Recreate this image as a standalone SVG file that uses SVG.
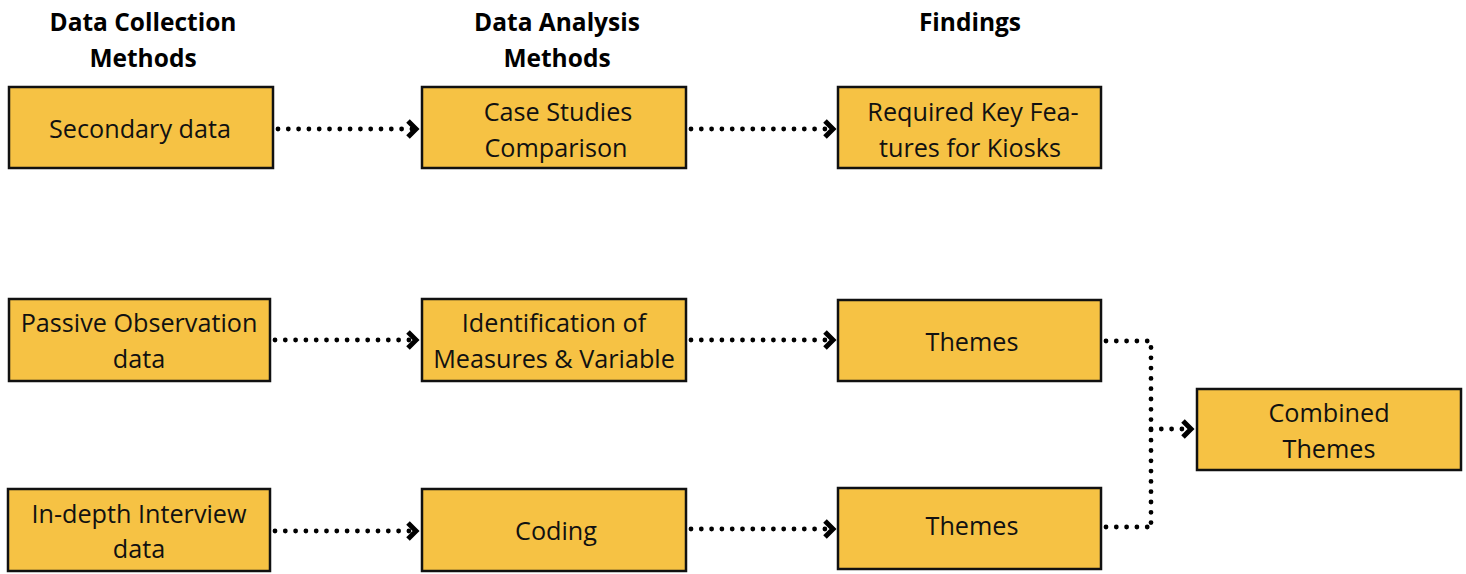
<svg xmlns="http://www.w3.org/2000/svg" width="1466" height="574" viewBox="0 0 1466 574">
  <defs>
    <style>
      .hdr { font-family: "Open Sans", "Liberation Sans", sans-serif; font-weight: 700; font-size: 24.5px; fill: #000; text-anchor: middle; }
      .box { fill: #F6C244; stroke: #111; stroke-width: 2.5; }
      .lbl { font-family: "Open Sans", "Liberation Sans", sans-serif; font-size: 25.2px; fill: #111; text-anchor: middle; }
      .dots { fill: none; stroke: #000; stroke-width: 4.8; stroke-linecap: round; stroke-dasharray: 0 10.3; }
      .head { fill: none; stroke: #000; stroke-width: 5; stroke-linecap: butt; stroke-linejoin: miter; }
    </style>
  </defs>
  <rect width="1466" height="574" fill="#fff"/>

  <!-- column headings -->
  <g id="headings">
    <text class="hdr" x="143" y="31">Data Collection</text>
    <text class="hdr" x="143" y="67">Methods</text>
    <text class="hdr" x="557" y="31">Data Analysis</text>
    <text class="hdr" x="557" y="67">Methods</text>
    <text class="hdr" x="970" y="31">Findings</text>
  </g>

  <!-- connectors -->
  <g id="connectors">
    <path class="dots" d="M278 129 H412"/>
    <path class="head" d="M408 121 L416 129 L408 137"/>
    <path class="dots" d="M691 129 H825"/>
    <path class="head" d="M825 121 L833 129 L825 137"/>

    <path class="dots" d="M275 340 H412"/>
    <path class="head" d="M408 332 L416 340 L408 348"/>
    <path class="dots" d="M691 340 H825"/>
    <path class="head" d="M825 332 L833 340 L825 348"/>

    <path class="dots" d="M275 531 H412"/>
    <path class="head" d="M408 523 L416 531 L408 539"/>
    <path class="dots" d="M691 529 H825"/>
    <path class="head" d="M825 521 L833 529 L825 537"/>

    <path class="dots" d="M1106 341 H1151 V527"/>
    <path class="dots" d="M1106 527 H1151"/>
    <path class="dots" d="M1151 429 H1182"/>
    <path class="head" d="M1183 421 L1191 429 L1183 437"/>
  </g>

  <g id="secondary-data">
    <rect class="box" x="9" y="87" width="264" height="81"/>
    <text class="lbl" x="140" y="138">Secondary data</text>
  </g>
  <g id="case-studies">
    <rect class="box" x="422" y="87" width="264" height="81"/>
    <text class="lbl" x="558" y="121">Case Studies</text>
    <text class="lbl" x="556" y="157">Comparison</text>
  </g>
  <g id="key-features">
    <rect class="box" x="838" y="87" width="263" height="81"/>
    <text class="lbl" x="973" y="121">Required Key Fea-</text>
    <text class="lbl" x="970" y="157">tures for Kiosks</text>
  </g>

  <g id="passive-observation">
    <rect class="box" x="9" y="299" width="261" height="82"/>
    <text class="lbl" x="139" y="332">Passive Observation</text>
    <text class="lbl" x="139" y="368">data</text>
  </g>
  <g id="identification">
    <rect class="box" x="422" y="299" width="264" height="82"/>
    <text class="lbl" x="554" y="332">Identification of</text>
    <text class="lbl" x="554" y="368">Measures &amp; Variable</text>
  </g>
  <g id="themes-observation">
    <rect class="box" x="838" y="300" width="263" height="81"/>
    <text class="lbl" x="972" y="351">Themes</text>
  </g>

  <g id="interview-data">
    <rect class="box" x="8" y="489" width="262" height="82"/>
    <text class="lbl" x="139" y="523">In-depth Interview</text>
    <text class="lbl" x="139" y="558">data</text>
  </g>
  <g id="coding">
    <rect class="box" x="422" y="489" width="264" height="82"/>
    <text class="lbl" x="556" y="540">Coding</text>
  </g>
  <g id="themes-interview">
    <rect class="box" x="838" y="488" width="263" height="81"/>
    <text class="lbl" x="972" y="535">Themes</text>
  </g>

  <g id="combined-themes">
    <rect class="box" x="1197" y="389" width="264" height="81"/>
    <text class="lbl" x="1329" y="422">Combined</text>
    <text class="lbl" x="1329" y="458">Themes</text>
  </g>
</svg>
